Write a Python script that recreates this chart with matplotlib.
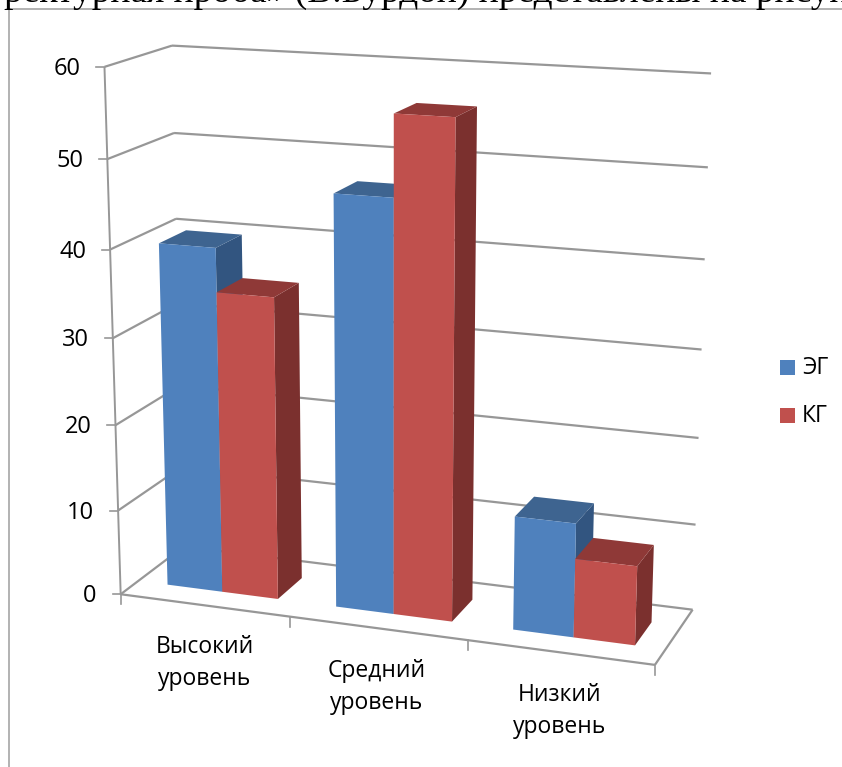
import numpy as np
import matplotlib
matplotlib.use("Agg")
import matplotlib.pyplot as plt
from matplotlib.patches import Polygon, Rectangle

categories = ["Высокий\nуровень", "Средний\nуровень", "Низкий\nуровень"]
series_names = ["ЭГ", "КГ"]
eg_values = [40, 47, 13]
kg_values = [35, 56, 9]
y_ticks = [0, 10, 20, 30, 40, 50, 60]
heading = "ректурная проба» (В.Бурдон) представлены на рисунке"

# chart box corners (category, value, depth) and where they land on the canvas
box_points = [
    (0, 0, 0), (0, 60, 0), (0, 60, 1), (0, 0, 1), (3, 0, 0), (3, 0, 1), (3, 60, 1),
    (0, 50, 1), (0, 40, 1), (3, 50, 1), (3, 10, 1),
]
box_canvas = [
    (122, 594), (103, 67), (172, 46), (182, 547), (655, 665), (693, 610), (711, 73),
    (175, 133), (177, 218), (708, 168), (695, 524),
]

BLUE = ["#4F81BD", "#3E6490", "#325580"]
RED = ["#C0504D", "#8F3937", "#7B302E"]
GRID = "#979797"


def solve_camera(world, canvas):
    # direct linear transform, gives the 3x4 perspective matrix
    rows = []
    for (x, y, z), (u, v) in zip(world, canvas):
        p = [x, y / 60, z, 1]
        rows.append(p + [0, 0, 0, 0] + [-u * c for c in p])
        rows.append([0, 0, 0, 0] + p + [-v * c for c in p])
    _, _, vt = np.linalg.svd(np.array(rows, dtype=float))
    return vt[-1].reshape(3, 4)


CAM = solve_camera(box_points, box_canvas)


def proj(x, y, z):
    u, v, w = CAM @ np.array([x, y / 60, z, 1.0])
    return (u / w, v / w)


fig = plt.figure(figsize=(8.42, 7.67), dpi=100)
ax = fig.add_axes([0, 0, 1, 1])
ax.set_xlim(0, 842)
ax.set_ylim(767, 0)
ax.axis("off")

plt.rcParams["font.family"] = ["Open Sans", "Noto Sans", "DejaVu Sans"]

# line of running text cut off by the chart frame
ax.text(4, 2, heading, family="Liberation Serif", fontsize=27, ha="left", va="baseline", color="black", clip_on=True)
ax.add_patch(Rectangle((0, 9), 842, 758, fc="white", ec="none", zorder=1.5))
ax.plot([8.5, 8.5, 842], [767, 9, 9], color="#A6A6A6", lw=1.2, zorder=2)


def seg(a, b, **kw):
    pa, pb = proj(*a), proj(*b)
    ax.plot([pa[0], pb[0]], [pa[1], pb[1]], color=GRID, solid_capstyle="butt", zorder=2, **kw)


# walls and floor
for t in y_ticks:
    seg((0, t, 0), (0, t, 1), lw=1.6)
    seg((0, t, 1), (3, t, 1), lw=1.6)
    p = proj(0, t, 0)
    ax.plot([p[0] - 8, p[0]], [p[1], p[1]], color=GRID, lw=1.2, zorder=2)
    ax.text(p[0] - 24, p[1] + 2, str(t), ha="right", va="center", fontsize=17, color="black", zorder=3)
seg((0, 0, 0), (0, 60, 0), lw=1.4)
seg((0, 0, 0), (3, 0, 0), lw=1.6)
seg((3, 0, 0), (3, 0, 1), lw=1.6)
for c in range(4):
    p = proj(c, 0, 0)
    ax.plot([p[0], p[0]], [p[1], p[1] + 10], color=GRID, lw=1.2, zorder=2)

BAR_LEFT = 0.178
BAR_W = 0.33
Z0, Z1 = 0.27, 0.69


def face(points, color):
    ax.add_patch(Polygon([proj(*q) for q in points], closed=True, fc=color, ec="none", zorder=3))


def bar3(x0, x1, h, colors):
    face([(x1, 0, Z0), (x1, 0, Z1), (x1, h, Z1), (x1, h, Z0)], colors[2])
    face([(x0, h, Z0), (x1, h, Z0), (x1, h, Z1), (x0, h, Z1)], colors[1])
    face([(x0, 0, Z0), (x1, 0, Z0), (x1, h, Z0), (x0, h, Z0)], colors[0])


for i in range(len(categories)):
    x0 = i + BAR_LEFT
    bar3(x0, x0 + BAR_W, eg_values[i], BLUE)
    bar3(x0 + BAR_W, x0 + 2 * BAR_W, kg_values[i], RED)

# category labels sit under the sloping floor edge
label_pos = [(205, 663), (377, 687), (560, 711)]
for text, (lx, ly) in zip(categories, label_pos):
    ax.text(lx, ly, text, ha="center", va="center", fontsize=16.5, linespacing=1.45, color="black", zorder=3)

# legend
for k, (name, col) in enumerate(zip(series_names, [BLUE[0], RED[0]])):
    top = 360 + 48 * k
    ax.add_patch(Rectangle((780, top), 15, 15, fc=col, ec="none", zorder=3))
    ax.text(802, top + 7.5, name, ha="left", va="center", fontsize=16.5, color="black", zorder=3)

fig.savefig("out.png", dpi=100)
